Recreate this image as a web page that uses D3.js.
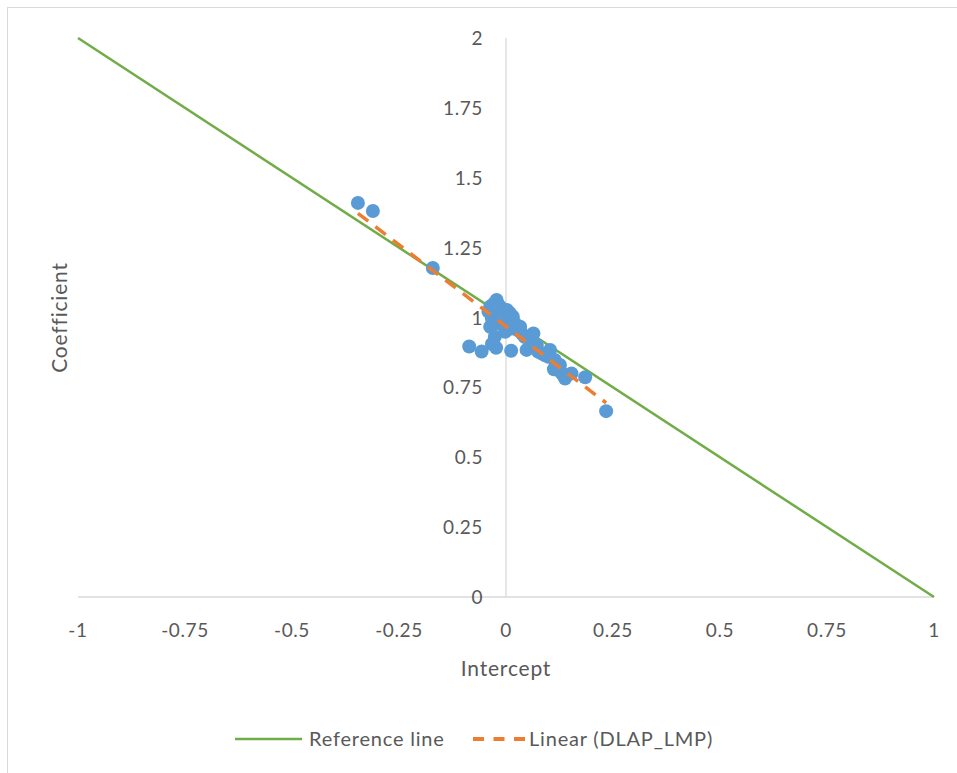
<!DOCTYPE html>
<html>
<head>
<meta charset="utf-8">
<script src="https://cdn.jsdelivr.net/npm/d3@7"></script>
<style>
body { margin: 0; background: #fff; }
text { font-family: Lato, "Liberation Sans", sans-serif; fill: #595959; }
</style>
</head>
<body>
<svg id="chart" width="957" height="773"></svg>
<script>
// intercept / coefficient pairs (DLAP_LMP)
var intercepts = [-0.346, -0.311, -0.171, -0.086, -0.057, -0.023, -0.033, 0.012,
    -0.022, -0.037, -0.010, 0.005, -0.033, -0.018, -0.037, 0.021, -0.002, -0.026,
    0.037, 0.056, 0.048, 0.075, 0.002, 0.016, 0.033, 0.064, 0.072, 0.083, 0.103,
    0.114, 0.122, 0.134, 0.153, 0.185, 0.234, -0.041, -0.026, 0.009, 0.060, 0.098,
    0.118, 0.138, 0.126, 0.090, 0.044, 0.027, -0.008, 0.010, -0.028, -0.017,
    0.128, 0.140, 0.112, 0.131];
var coefficients = [1.410, 1.381, 1.177, 0.896, 0.878, 0.892, 0.905, 0.881,
    1.063, 1.039, 1.033, 1.021, 0.997, 0.979, 0.967, 0.979, 0.949, 0.931,
    0.943, 0.919, 0.884, 0.878, 1.027, 1.003, 0.967, 0.943, 0.902, 0.872, 0.884,
    0.848, 0.818, 0.794, 0.800, 0.786, 0.665, 1.021, 1.003, 1.015, 0.913, 0.860,
    0.824, 0.782, 0.830, 0.866, 0.930, 0.955, 0.990, 0.960, 1.050, 1.045,
    0.805, 0.790, 0.815, 0.800];

var refLine = [[-1, 2], [1, 0]];
var xTicks = [-1, -0.75, -0.5, -0.25, 0, 0.25, 0.5, 0.75, 1];
var yTicks = [0, 0.25, 0.5, 0.75, 1, 1.25, 1.5, 1.75, 2];

var svg = d3.select("#chart");

// outer border
svg.append("rect")
    .attr("x", 7.5).attr("y", 7.5)
    .attr("width", 960).attr("height", 790)
    .attr("fill", "none")
    .attr("stroke", "#d9d9d9");

var x = d3.scaleLinear().domain([-1, 1]).range([78, 934]);
var y = d3.scaleLinear().domain([0, 2]).range([597, 38]);

// axis lines through zero
svg.append("line")
    .attr("x1", x(-1)).attr("x2", x(1))
    .attr("y1", y(0)).attr("y2", y(0))
    .attr("stroke", "#d9d9d9").attr("stroke-width", 1.3);
svg.append("line")
    .attr("x1", x(0)).attr("x2", x(0))
    .attr("y1", y(0)).attr("y2", y(2))
    .attr("stroke", "#d9d9d9").attr("stroke-width", 1.3);

// tick labels
svg.selectAll(".xtick")
    .data(xTicks)
    .enter()
    .append("text")
    .attr("class", "xtick")
    .attr("x", function (d) { return x(d) })
    .attr("y", y(0) + 40)
    .attr("text-anchor", "middle")
    .style("font-size", "19px")
    .style("letter-spacing", "0.6px")
    .text(function (d) { return d });

svg.selectAll(".ytick")
    .data(yTicks)
    .enter()
    .append("text")
    .attr("class", "ytick")
    .attr("x", x(0) - 23)
    .attr("y", function (d) { return y(d) + 7 })
    .attr("text-anchor", "end")
    .style("font-size", "19px")
    .style("letter-spacing", "0.6px")
    .text(function (d) { return d });

// axis titles
svg.append("text")
    .attr("x", x(0))
    .attr("y", 676)
    .attr("text-anchor", "middle")
    .style("font-size", "21px")
    .style("letter-spacing", "0.8px")
    .text("Intercept");
svg.append("text")
    .attr("transform", "translate(67," + y(1) + ") rotate(-90)")
    .attr("text-anchor", "middle")
    .style("font-size", "21px")
    .style("letter-spacing", "0.8px")
    .text("Coefficient");

// reference line
var line = d3.line()
    .x(function (d) { return x(d[0]) })
    .y(function (d) { return y(d[1]) });

svg.append("path")
    .datum(refLine)
    .attr("d", line)
    .attr("fill", "none")
    .attr("stroke", "#70ad47")
    .attr("stroke-width", 2.5);

// points
var pts = intercepts.map(function (d, i) { return [d, coefficients[i]] });

svg.selectAll(".pt")
    .data(pts)
    .enter()
    .append("circle")
    .attr("class", "pt")
    .attr("cx", function (d) { return x(d[0]) })
    .attr("cy", function (d) { return y(d[1]) })
    .attr("r", 7)
    .attr("fill", "#5b9bd5");

// least squares trendline
var mx = d3.mean(intercepts), my = d3.mean(coefficients);
var sxy = d3.sum(pts, function (d) { return (d[0] - mx) * (d[1] - my) });
var sxx = d3.sum(intercepts, function (d) { return (d - mx) * (d - mx) });
var slope = sxy / sxx;
var b = my - slope * mx;
var xr = d3.extent(intercepts);
var trend = xr.map(function (d) { return [d, b + slope * d] });

svg.append("path")
    .datum(trend)
    .attr("d", line)
    .attr("fill", "none")
    .attr("stroke", "#ed7d31")
    .attr("stroke-width", 3.5)
    .attr("stroke-dasharray", "13,9");

// legend
svg.append("line")
    .attr("x1", 235).attr("x2", 302)
    .attr("y1", 739).attr("y2", 739)
    .attr("stroke", "#70ad47").attr("stroke-width", 2.5);
svg.append("text")
    .attr("x", 309).attr("y", 746)
    .style("font-size", "20px")
    .style("letter-spacing", "0.8px")
    .text("Reference line");
svg.append("line")
    .attr("x1", 473).attr("x2", 525)
    .attr("y1", 739).attr("y2", 739)
    .attr("stroke", "#ed7d31").attr("stroke-width", 4)
    .attr("stroke-dasharray", "11,9.5");
svg.append("text")
    .attr("x", 529).attr("y", 746)
    .style("font-size", "20px")
    .style("letter-spacing", "0.8px")
    .text("Linear (DLAP_LMP)");
</script>
</body>
</html>
